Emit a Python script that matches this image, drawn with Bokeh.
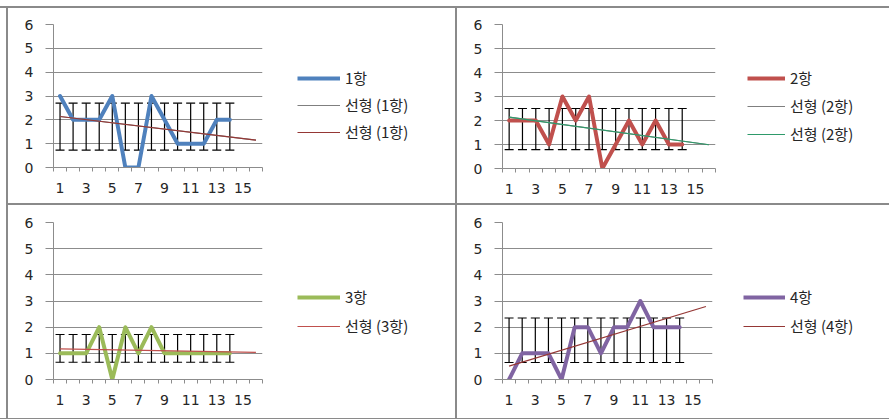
from bokeh.plotting import figure
from bokeh.models import (Range1d, FixedTicker, Whisker, TeeHead, ColumnDataSource,
                          Legend, LegendItem, Div)
from bokeh.layouts import column, row
from bokeh.embed import file_html
from bokeh.resources import INLINE

# ---------------- data ----------------
periods = list(range(1, 15))
trend_x = [1, 16]
x_tick_labels = [1, 3, 5, 7, 9, 11, 13, 15]
y_ticks = [0, 1, 2, 3, 4, 5, 6]

series1 = [3, 2, 2, 2, 3, 0, 0, 3, 2, 1, 1, 1, 2, 2]
series2 = [2, 2, 2, 1, 3, 2, 3, 0, 1, 2, 1, 2, 1, 1]
series3 = [1, 1, 1, 2, 0, 2, 1, 2, 1, 1, 1, 1, 1, 1]
series4 = [0, 1, 1, 1, 0, 2, 2, 1, 2, 2, 3, 2, 2, 2]

trend1 = [2.14, 1.15]
trend2 = [2.14, 0.99]
trend3 = [1.17, 1.04]
trend4 = [0.51, 2.79]

err1 = [0.73, 2.70]
err2 = [0.79, 2.50]
err3 = [0.66, 1.72]
err4 = [0.65, 2.35]

names = ["1항", "2항", "3항", "4항"]
trend_label = "선형 ({})"

TICK_FONT = "DejaVu Sans"
LEG_FONT = "Noto Sans CJK KR"
GRID = "#8c8c8c"
BORDER = "#8a8a8a"
TEXT = "#262626"


def make_panel(values, name, color, trends, err, w, h, mbl, fw, mbt, fh,
               leg_xy, glyph_w, leg_spacing):
    cw = mbl + fw + 10
    p = figure(width=cw, height=h, x_range=Range1d(0.5, 16.5), y_range=Range1d(0, 6),
               output_backend="svg", toolbar_location=None, title=None,
               min_border_left=mbl, min_border_right=10,
               min_border_top=mbt, min_border_bottom=h - mbt - fh)
    p.outline_line_color = None
    p.background_fill_color = "white"
    p.border_fill_color = "white"
    p.xgrid.visible = False
    p.ygrid.ticker = FixedTicker(ticks=y_ticks)
    p.ygrid.grid_line_color = GRID
    p.ygrid.grid_line_width = 1

    xa = p.xaxis[0]
    xa.ticker = FixedTicker(ticks=x_tick_labels,
                            minor_ticks=[k - 0.5 for k in range(1, 18)])
    xa.major_tick_line_color = None
    xa.major_tick_out = 0
    xa.major_tick_in = 0
    xa.minor_tick_out = 4
    xa.minor_tick_in = 0
    xa.minor_tick_line_color = GRID
    xa.axis_line_color = GRID
    xa.major_label_standoff = 11
    xa.major_label_text_font = TICK_FONT
    xa.major_label_text_font_size = "14px"
    xa.major_label_text_color = TEXT

    ya = p.yaxis[0]
    ya.ticker = FixedTicker(ticks=y_ticks)
    ya.minor_tick_line_color = None
    ya.major_tick_out = 8
    ya.major_tick_in = 0
    ya.major_tick_line_color = GRID
    ya.axis_line_color = GRID
    ya.major_label_standoff = 12
    ya.major_label_text_font = TICK_FONT
    ya.major_label_text_font_size = "14px"
    ya.major_label_text_color = TEXT

    p.line(periods, values, line_color=color, line_width=4,
           line_join="round", line_cap="round")
    for tcolor, tvals in trends:
        p.line(trend_x, tvals, line_color=tcolor, line_width=1.2)

    src = ColumnDataSource(dict(x=periods, lo=[err[0]] * len(periods),
                                hi=[err[1]] * len(periods)))
    wk = Whisker(base="x", lower="lo", upper="hi", source=src, dimension="height",
                 line_color="black", line_width=1.2,
                 upper_head=TeeHead(size=9, line_color="black", line_width=1.2),
                 lower_head=TeeHead(size=9, line_color="black", line_width=1.2))
    p.add_layout(wk)

    # legend lives in its own figure to the right of the chart; the lines there
    # carry the same data but sit outside that figure's visible range.
    # (its frame is aligned with the chart frame by the row layout)
    lw = w - cw
    lg = figure(width=lw, height=h, x_range=Range1d(-2, -1), y_range=Range1d(-2, -1),
                x_axis_type=None, y_axis_type=None, title=None,
                output_backend="svg", toolbar_location=None, min_border=0)
    lg.outline_line_color = None
    lg.border_fill_color = "white"
    lg.background_fill_color = "white"
    rm = lg.line(periods, values, line_color=color, line_width=4)
    items = [LegendItem(label=name, renderers=[rm])]
    for tcolor, tvals in trends:
        rt = lg.line(trend_x, tvals, line_color=tcolor, line_width=1.2)
        items.append(LegendItem(label=trend_label.format(name), renderers=[rt]))
    leg = Legend(items=items, location=leg_xy, padding=0, margin=0,
                 border_line_color=None, background_fill_alpha=0,
                 glyph_width=glyph_w, glyph_height=20, label_height=20,
                 label_standoff=5, spacing=leg_spacing,
                 label_text_font=LEG_FONT, label_text_font_size="15px",
                 label_text_color=TEXT)
    lg.add_layout(leg)
    return row(p, lg, spacing=0)


p1 = make_panel(series1, names[0], "#4f81bd",
                [("#7f7f7f", trend1), ("#953735", trend1)], err1,
                447, 195, 45, 209, 16, 143, (25, 25), 43, 6)
p2 = make_panel(series2, names[1], "#c0504d",
                [("#7f7f7f", trend2), ("#2e9a6a", trend2)], err2,
                432, 195, 45, 213, 16, 144, (22, 24), 38, 7)
p3 = make_panel(series3, names[2], "#9bbb59",
                [("#c0504d", trend3)], err3,
                447, 211, 45, 209, 17, 157, (25, 43), 43, 8)
p4 = make_panel(series4, names[3], "#8064a2",
                [("#953735", trend4)], err4,
                432, 211, 45, 210, 17, 157, (21, 43), 42, 8)


def bar(w, h, color=BORDER):
    return Div(text="", width=w, height=h, margin=0,
               styles={"background-color": color})


left_col = column(p1, bar(447, 2), p3, spacing=0)
right_col = column(p2, bar(432, 2), p4, spacing=0)
middle = row(bar(6, 410, "white"), bar(2, 410), left_col, bar(2, 410), right_col,
             spacing=0)
layout = column(bar(889, 6, "white"), bar(889, 2), middle, bar(889, 2), spacing=0)

open("out.html", "w").write(file_html(layout, INLINE))
